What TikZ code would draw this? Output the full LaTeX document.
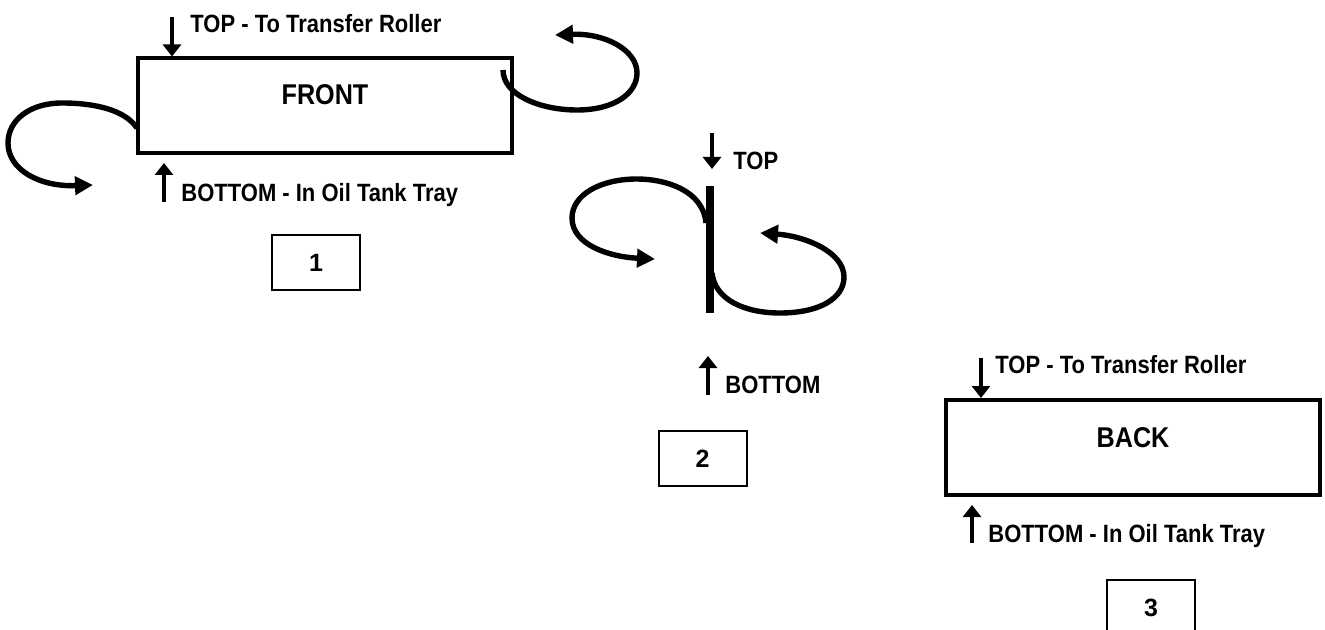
\documentclass[tikz,border=0pt]{standalone}
\usepackage{fontspec}
\setmainfont{Liberation Sans}[FakeStretch=0.88]
\newfontfamily\numfont{Liberation Sans}
\usetikzlibrary{arrows.meta,positioning}

\begin{document}
\begin{tikzpicture}[x=0.5pt,y=-0.5pt,
panel/.style={draw,line width=2pt,minimum width=187pt,minimum height=47.5pt},
bigtxt/.style={inner sep=0pt,font=\fontsize{14.3}{17}\selectfont\bfseries},
numbox/.style={draw,line width=1pt,minimum width=44pt,minimum height=27.5pt,font=\numfont\fontsize{12.5}{15}\selectfont\bfseries},
lbl/.style={anchor=base west,inner sep=0pt,font=\fontsize{12.5}{15}\selectfont\bfseries},
arr/.style={-{Triangle[length=6pt,width=9pt]},line width=2.1pt},
turn/.style={-{Triangle[length=9pt,width=9pt]},line width=2.7pt}]

\useasboundingbox (0,0) rectangle (1325,630);

% 1 - front side
\node[panel] (front) at (325,106) {};
\node[bigtxt] (fronttxt) at (325,95) {FRONT};
\coordinate (fronttop) at (172,17);
\coordinate (frontbot) at (164,202);
\coordinate (frontbottip) at (164,163);
\draw[arr] (fronttop) -- (fronttop |- front.north);
\draw[arr] (frontbot) -- (frontbottip);
\node[lbl] (fronttoplbl) at (190,33) {TOP - To Transfer Roller};
\node[lbl] (frontbotlbl) at (181,202) {BOTTOM - In Oil Tank Tray};
\coordinate (frontl) at (137,128);
\coordinate (frontlend) at (93,185);
\coordinate (frontr) at (503,70);
\coordinate (frontrend) at (555,35);
\draw[turn] (frontl) .. controls (125,110) and (95,103) .. (62,103)
  .. controls (30,103) and (8,120) .. (8,143)
  .. controls (8,170) and (40,187) .. (frontlend);
\draw[turn] (frontr) .. controls (503,95) and (540,110) .. (577,110)
  .. controls (615,110) and (637,93) .. (637,73)
  .. controls (637,50) and (605,33) .. (frontrend);
\node[numbox] (one) at (316,262.5) {1};

% 2 - turning over
\node[fill,inner sep=0pt,minimum width=4pt,minimum height=63.5pt] (bar) at (710,249.5) {};
\coordinate (midtop) at (712,133);
\coordinate (midtoptip) at (712,169);
\coordinate (midbot) at (708,395);
\coordinate (midbottip) at (708,356);
\draw[arr] (midtop) -- (midtoptip);
\draw[arr] (midbot) -- (midbottip);
\node[lbl] (midtoplbl) at (733,170) {TOP};
\node[lbl] (midbotlbl) at (725,393) {BOTTOM};
\coordinate (midl) at (706,223);
\coordinate (midlend) at (655,259);
\coordinate (midr) at (712,273);
\coordinate (midrend) at (760,233);
\draw[turn] (midl) .. controls (703,190) and (665,179) .. (637,179)
  .. controls (600,179) and (572,195) .. (572,218)
  .. controls (572,245) and (610,257) .. (midlend);
\draw[turn] (midr) .. controls (715,300) and (745,313) .. (780,313)
  .. controls (820,313) and (844,298) .. (844,277)
  .. controls (844,252) and (805,236) .. (midrend);
\node[numbox] (two) at (702.5,458.5) {2};

% 3 - back side
\node[panel] (back) at (1133,447.5) {};
\node[bigtxt] (backtxt) at (1133,437.5) {BACK};
\coordinate (backtop) at (981,358);
\coordinate (backbot) at (972,543);
\coordinate (backbottip) at (972,505);
\draw[arr] (backtop) -- (backtop |- back.north);
\draw[arr] (backbot) -- (backbottip);
\node[lbl] (backtoplbl) at (995,373) {TOP - To Transfer Roller};
\node[lbl] (backbotlbl) at (988,542) {BOTTOM - In Oil Tank Tray};
\node[numbox] (three) at (1151,607.5) {3};
\end{tikzpicture}
\end{document}
